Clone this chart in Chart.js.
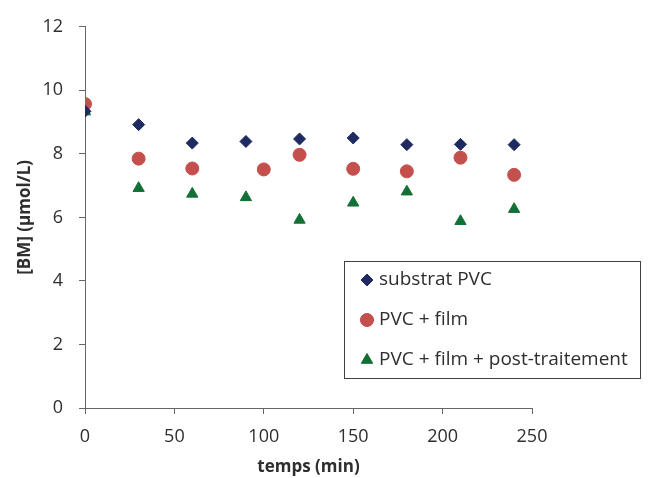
<!DOCTYPE html>
<html><head><meta charset="utf-8">
<script src="https://cdn.jsdelivr.net/npm/chart.js@4/dist/chart.umd.min.js"></script>
<style>html,body{margin:0;padding:0;background:#fff}#wrap{width:651px;height:478px;position:relative}</style>
</head><body><div id="wrap"><canvas id="c" width="651" height="478"></canvas></div>
<script>
const timesSubstrat = [0,30,60,90,120,150,180,210,240];
const substratPVC = [9.34,8.92,8.34,8.39,8.47,8.50,8.29,8.30,8.29];
const timesFilm = [0,30,60,100,120,150,180,210,240];
const pvcFilm = [9.57,7.85,7.54,7.51,7.97,7.53,7.45,7.88,7.34];
const timesPost = [0,30,60,90,120,150,180,210,240];
const pvcFilmPost = [9.33,6.92,6.74,6.63,5.92,6.46,6.81,5.88,6.26];
const seriesLabels = ['substrat PVC','PVC + film','PVC + film + post-traitement'];
const xTicks = [0,50,100,150,200,250];
const yTicks = [0,2,4,6,8,10,12];
const xTitle = 'temps (min)';
const yTitle = '[BM] (µmol/L)';

const colors = ['#1F2A60','#C4504D','#127036'];
const styles = ['rectRot','circle','triangle'];
const radii = [6,6.5,6.5];
const FONT = '"Open Sans", "Liberation Sans", sans-serif';
const TEXT = '#2e2e2e';
const AXIS = '#666666';

function pts(xs, ys){ return xs.map((x,i)=>({x:x,y:ys[i]})); }
const seriesData = [pts(timesSubstrat,substratPVC), pts(timesFilm,pvcFilm), pts(timesPost,pvcFilmPost)];

const legendPlugin = {
  id:'customLegend',
  afterDraw(chart){
    const ctx = chart.ctx;
    ctx.save();
    ctx.strokeStyle = '#404040';
    ctx.lineWidth = 1;
    ctx.strokeRect(344.5, 261.5, 296, 117);
    const rows = [280, 320, 360];
    for (let i=0;i<3;i++){
      ctx.fillStyle = colors[i];
      ctx.strokeStyle = colors[i];
      Chart.helpers.drawPoint(ctx, {pointStyle: styles[i], radius: radii[i], borderWidth: 1, rotation: 0}, 367, rows[i]);
      ctx.fill();
      ctx.fillStyle = TEXT;
      ctx.font = '19px ' + FONT;
      ctx.textAlign = 'left';
      ctx.textBaseline = 'middle';
      ctx.fillText(seriesLabels[i], 379, rows[i]);
    }
    ctx.restore();
  }
};

new Chart(document.getElementById('c'), {
  type: 'scatter',
  data: {
    datasets: seriesLabels.map((lab,i)=>({
      label: lab,
      data: seriesData[i],
      pointStyle: styles[i],
      pointRadius: radii[i],
      pointHoverRadius: radii[i],
      backgroundColor: colors[i],
      borderColor: colors[i],
      borderWidth: 1,
      showLine: false
    }))
  },
  options: {
    responsive: false,
    animation: false,
    devicePixelRatio: 1,
    layout: { padding: { top: 24, right: 119, left: 0, bottom: 0 } },
    plugins: { legend: { display: false }, tooltip: { enabled: false } },
    scales: {
      x: {
        type: 'linear', min: 0, max: 250,
        afterBuildTicks: (s)=>{ s.ticks = xTicks.map(v=>({value:v})); },
        afterFit: (s)=>{ s.height = 70; },
        border: { color: AXIS, width: 1 },
        grid: { drawOnChartArea: false, drawTicks: true, tickLength: 6, color: AXIS },
        ticks: { color: TEXT, font: { size: 18, family: FONT }, padding: 12, maxRotation: 0 },
        title: { display: true, text: xTitle, color: TEXT, font: { size: 17, weight: 'bold', family: FONT }, padding: { top: 4, bottom: 1 } }
      },
      y: {
        type: 'linear', min: 0, max: 12,
        afterBuildTicks: (s)=>{ s.ticks = yTicks.map(v=>({value:v})); },
        afterFit: (s)=>{ s.width = 85; },
        border: { color: AXIS, width: 1 },
        grid: { drawOnChartArea: false, drawTicks: true, tickLength: 6, color: AXIS },
        ticks: { color: TEXT, font: { size: 18, family: FONT }, padding: 16 },
        title: { display: true, text: yTitle, color: TEXT, font: { size: 17, weight: 'bold', family: FONT }, padding: { top: 15, bottom: 0 } }
      }
    }
  },
  plugins: [legendPlugin]
});
</script>
</body></html>
